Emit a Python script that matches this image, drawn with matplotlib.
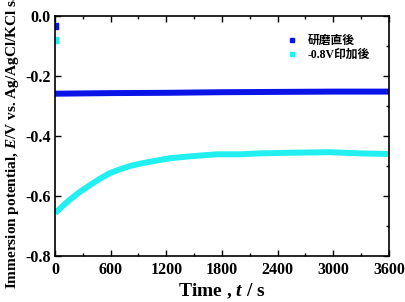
import matplotlib
matplotlib.use('Agg')
import matplotlib.pyplot as plt
from matplotlib.ticker import MultipleLocator

plt.rcParams['font.family'] = ['Liberation Serif', 'Noto Sans CJK JP']
plt.rcParams['font.weight'] = 'bold'
plt.rcParams['mathtext.fontset'] = 'custom'
plt.rcParams['mathtext.it'] = 'Liberation Serif:italic:bold'
plt.rcParams['mathtext.rm'] = 'Liberation Serif:bold'

# 研磨直後
blue_t0 = [0]
blue_E0 = [-0.034]
blue_t = [0, 300, 600, 1200, 1800, 2400, 3000, 3600]
blue_E = [-0.259, -0.258, -0.257, -0.256, -0.254, -0.253, -0.252, -0.252]

# -0.8V印加後
cyan_t0 = [0]
cyan_E0 = [-0.080]
cyan_t = [0, 80, 160, 260, 380, 480, 590, 700, 810, 920, 1020, 1240, 1450, 1740,
          2000, 2200, 2500, 2950, 3300, 3600]
cyan_E = [-0.657, -0.634, -0.612, -0.588, -0.563, -0.543, -0.524, -0.511, -0.500,
          -0.492, -0.486, -0.474, -0.468, -0.461, -0.461, -0.458, -0.456, -0.454,
          -0.458, -0.460]

labels = ['研磨直後', '-0.8V印加後']
blue = '#0a14e6'
cyan = '#22f0f0'

fig = plt.figure(figsize=(4.06, 3.02), dpi=100)
ax = fig.add_axes([0.1355, 0.1523, 0.8225, 0.7947])

ax.plot(blue_t, blue_E, color=blue, lw=4.3, solid_capstyle='butt')
ax.plot(cyan_t, cyan_E, color=cyan, lw=4.3, solid_capstyle='butt',
        solid_joinstyle='round')
ax.plot(blue_t0, blue_E0, 's', color=blue, ms=4)
ax.plot(cyan_t0, cyan_E0, 's', color=cyan, ms=4)

# legend handles
h1, = ax.plot([], [], 's', color=blue, ms=3.5, label=labels[0])
h2, = ax.plot([], [], 's', color=cyan, ms=3.5, label=labels[1])
ax.legend(handles=[h1, h2], loc='upper left', bbox_to_anchor=(0.665, 0.965),
          frameon=False, handlelength=0.8, handletextpad=0.9,
          labelspacing=0.15, prop={'weight': 'bold', 'size': 8.5})

ax.set_xlim(0, 3600)
ax.set_ylim(-0.8, 0.0)
ax.xaxis.set_major_locator(MultipleLocator(600))
ax.xaxis.set_minor_locator(MultipleLocator(300))
ax.yaxis.set_major_locator(MultipleLocator(0.2))
ax.yaxis.set_minor_locator(MultipleLocator(0.1))
ax.yaxis.set_major_formatter(plt.FuncFormatter(lambda v, p: f'{v:.1f}'))

ax.tick_params(which='both', direction='in', top=True, right=True, width=1,
               labelsize=11.5)
ax.tick_params(which='major', length=4)
ax.tick_params(which='minor', length=2.5)
ax.tick_params(axis='y', which='minor', left=False, right=True)
ax.tick_params(axis='y', pad=3)
ax.tick_params(axis='x', pad=4)
for lab in ax.get_xticklabels() + ax.get_yticklabels():
    lab.set_fontweight('bold')
for s in ax.spines.values():
    s.set_linewidth(1.2)

ax.set_xlabel('Time , $\\it{t}$ / s', fontsize=14, fontweight='bold', labelpad=3)
ax.set_ylabel('Immersion potential, $\\it{E}$/V vs. Ag/AgCl/KCl sat.',
              fontsize=11, fontweight='bold', labelpad=3)

fig.savefig('out.png', dpi=100)
